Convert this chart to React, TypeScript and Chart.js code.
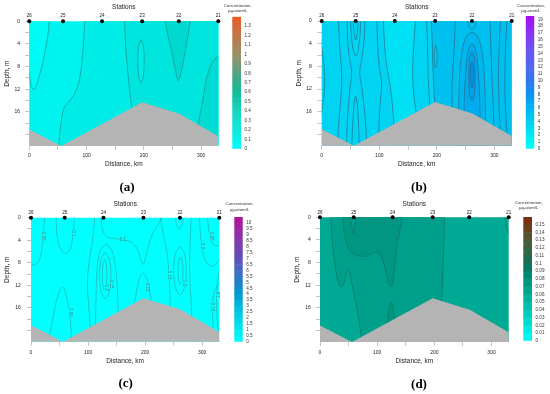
import React, { useEffect, useRef } from 'react';
import { Chart, registerables } from 'chart.js';

Chart.register(...registerables);

type P = [number, number];
const FONT = '"Liberation Sans", Arial, sans-serif';

// ---------- shared axis data ----------
const stationKm = [0, 59, 127, 197, 261, 330];
const stationNames = ['26', '25', '24', '23', '22', '21'];
const distanceTicks = [0, 50, 100, 150, 200, 250, 300];
const distanceLabels = [0, 100, 200, 300];
const depthTicks = [0, 2, 4, 6, 8, 10, 12, 14, 16, 18, 20];
const depthLabels = [0, 4, 8, 12, 16];
const bottomProfile: P[] = [[0, 19.1], [56, 22], [197, 14.3], [262, 16.3], [330, 20.3]];
const plotRect: P[] = [[-30, -30], [400, -30], [400, 40], [-30, 40]];

// ---------- panel (a) ----------
const aC1: P[] = [[35, -0.5], [33, 2], [29, 4.5], [23, 7.5], [15, 10.5], [9, 12], [4, 11.6], [1, 10], [0, 9.2]];
const aC2: P[] = [[97, -0.5], [95, 3], [92, 7], [87, 10.5], [79, 12.8], [69, 14.2], [61, 15.2], [56, 17.5], [53, 20], [51, 22.5]];
const aC3: P[] = [[166, -0.5], [168, 4], [172, 9], [176, 13], [180, 16]];
const aEll: P[] = [[195, 3.2], [199, 4.3], [200.5, 7], [199, 9.7], [195, 10.8], [191, 9.7], [189.5, 7], [191, 4.3], [195, 3.2]];
const aC4: P[] = [[236, -0.5], [242, 2.5], [250, 6], [256, 9], [260.5, 10.5], [265, 9], [271, 6], [277, 2.5], [282, -0.5]];
const aC5: P[] = [[331, 6.2], [325, 6.5], [318, 7.5], [311, 9.5], [306, 12], [302, 14.5], [297, 17], [293, 19.5]];
const aBarTicks = [0, 0.1, 0.2, 0.3, 0.4, 0.5, 0.6, 0.7, 0.8, 0.9, 1, 1.1, 1.2, 1.3];
const aStops: [number, string][] = [[0, '#00ffff'], [0.2, '#10e8dc'], [0.4, '#18d4c0'], [0.6, '#10bc98'], [0.75, '#40a888'], [0.9, '#7a9a74'], [1.0, '#9c9064'], [1.15, '#b87c52'], [1.3, '#d86838'], [1.4, '#ec5a24']];

// ---------- panel (b) ----------
const bC1: P[] = [[-0.5, 4.3], [2.5, 6.5], [4.5, 9], [5, 10.5], [4, 13], [1.5, 15], [-0.5, 16.2]];
const bC2: P[] = [[29, -0.5], [31, 4], [34, 8], [35, 10.5], [33, 14], [30, 17.5], [28, 20.8]];
const bC3: P[] = [[44, -0.5], [45, 3], [48, 6.5], [52, 9], [49, 12], [46, 15.5], [44, 19], [43.5, 21.5]];
const bC4: P[] = [[75, -0.5], [74, 3], [70, 6.5], [66, 9], [70, 12], [74, 15.5], [77, 19], [78, 21.2]];
const bC5: P[] = [[50, -0.5], [51.5, 2.5], [54.5, 5], [59, 6.2], [63.5, 5], [66.5, 2.5], [68, -0.5]];
const bC6: P[] = [[54.5, -0.5], [56, 2], [59, 3.3], [62, 2], [63.5, -0.5]];
const bC7: P[] = [[52, 22.5], [54, 18], [56.5, 14.5], [59, 13.3], [61.5, 14.5], [64, 18], [65, 22.5]];
const bC8: P[] = [[96, -0.5], [97, 4], [100, 8], [104, 11], [102, 14], [100, 17], [99, 20.6]];
const bC9: P[] = [[107, -0.5], [109, 4], [113, 8], [119, 11.5], [123, 15], [126, 19]];
const bC10: P[] = [[163, -0.5], [160, 4], [158, 8], [159, 12], [163, 15.5], [165, 17.5]];
const bC11: P[] = [[190, -0.5], [192, 4], [193, 8], [195, 12], [197, 15]];
const bC12: P[] = [[182, -0.5], [184, 5], [185, 10], [188, 15.5]];
const bEll23: P[] = [[198, 4.3], [200, 5], [200.5, 6.3], [200, 7.6], [198, 8.3], [196, 7.6], [195.5, 6.3], [196, 5], [198, 4.3]];
const bC13: P[] = [[232, -0.5], [230, 5], [227, 10], [226, 13], [227, 15.8]];
const bE4: P[] = [[238, 15.8], [239, 11], [242, 6.5], [248, 3.5], [255, 2.3], [261, 2], [267, 2.3], [274, 3.5], [280, 6.5], [283, 11], [285, 17.8]];
const bE3: P[] = [[247, 16.2], [248, 12.5], [251, 8], [255, 5], [261, 4], [267, 5], [271, 8], [274, 12.5], [275, 17.2]];
const bE2: P[] = [[261, 5.5], [265, 6.5], [266.5, 9.8], [265, 13.1], [261, 14.1], [257, 13.1], [255.5, 9.8], [257, 6.5], [261, 5.5]];
const bE1: P[] = [[261, 7.2], [263, 7.9], [263.5, 9.5], [263, 11.1], [261, 11.8], [259, 11.1], [258.5, 9.5], [259, 7.9], [261, 7.2]];
const bU22: P[] = [[253, -0.5], [256, 1], [261, 1.5], [266, 1], [269, -0.5]];
const bC14: P[] = [[292, -0.5], [294, 5], [296, 11], [298, 15], [299, 18.8]];
const bC15: P[] = [[311, -0.5], [308, 5], [307, 10], [308, 15], [310, 19.5]];
const bC16: P[] = [[322, -0.5], [319, 6], [318, 12], [320, 17], [322, 20]];
const bBarTicks = [0, 1, 2, 3, 4, 5, 6, 7, 8, 9, 10, 11, 12, 13, 14, 15, 16, 17, 18, 19];
const bStops: [number, string][] = [[0, '#00ffff'], [2, '#00e8f2'], [4, '#00ccf0'], [6, '#00b4f0'], [8, '#1090f0'], [10, '#3078f0'], [12, '#5068f0'], [14, '#6858f0'], [16, '#8040f0'], [18, '#9820f0'], [19.5, '#a808f0']];

// ---------- panel (c) ----------
const cC1: P[] = [[24, -0.5], [22, 2.5], [19, 5.5], [15, 7.4], [9, 8.2], [3, 8.4], [-0.5, 8.4]];
const cC2: P[] = [[44, -0.5], [45, 2.5], [49, 4.8], [55, 6], [62, 6.3], [69, 5.5], [73, 3.5], [75, 1.5], [76, -0.5]];
const cC3: P[] = [[122, -0.5], [125, 2], [132, 3.3], [145, 3.7], [160, 3.9], [175, 4.3], [186, 5.5], [192, 7.3], [196.5, 8.3], [201, 7], [207, 4.5], [215, 2.4], [224, 1], [232, -0.5]];
const cC4: P[] = [[112, -0.5], [109, 3], [104, 6.5], [100, 9.5], [99, 12.5], [101, 15.5], [104, 19.5]];
const cC5: P[] = [[113, 19.5], [114, 14], [116, 9], [121, 6], [130, 4.8], [140, 5.5], [147, 8], [151, 12], [153, 16.8]];
const cE24a: P[] = [[130, 6.1], [137, 7.3], [140, 10.2], [137, 13.1], [130, 14.3], [123, 13.1], [120, 10.2], [123, 7.3], [130, 6.1]];
const cE24b: P[] = [[129, 7.4], [132, 8.2], [133, 10.1], [132, 12], [129, 12.8], [126, 12], [125, 10.1], [126, 8.2], [129, 7.4]];
const cArch23: P[] = [[181, 15.6], [186, 12.5], [191, 10.5], [196.5, 9.8], [202, 10.5], [207, 12.5], [211, 15]];
const cU22: P[] = [[253, -0.5], [255, 1.2], [260, 2], [265, 1.2], [268, -0.5]];
const cL22: P[] = [[226, -0.5], [232, 3], [238, 6], [241, 9], [243, 12], [244, 16]];
const cR22: P[] = [[281, -0.5], [279, 4], [278, 8], [279, 12], [282, 17.8]];
const cE22a: P[] = [[261, 5.1], [268.8, 6.4], [272, 9.4], [268.8, 12.4], [261, 13.7], [253.2, 12.4], [250, 9.4], [253.2, 6.4], [261, 5.1]];
const cE22b: P[] = [[262, 7], [265.2, 7.7], [266.5, 9.4], [265.2, 11.1], [262, 11.8], [258.8, 11.1], [257.5, 9.4], [258.8, 7.7], [262, 7]];
const c21a: P[] = [[295, -0.5], [297, 3], [301, 6], [308, 8], [318, 8.6], [326, 8], [331, 7.5]];
const c21b: P[] = [[309, -0.5], [312, 2.5], [318, 4.5], [324, 5], [331, 4.8]];
const c21c: P[] = [[331, 9], [327, 11], [325, 14], [326, 17], [328, 20.5]];
const c21d: P[] = [[331, 11.5], [322, 13], [318, 15.5], [319, 18.5], [320, 20.5]];
const c25b: P[] = [[33, 20.8], [38, 18], [44, 15], [51, 12.7], [56, 12.3], [61, 13.5], [65, 15.5], [68, 17], [71, 21.3]];
const cLabelKm = [21.3, 73.5, 161, 132, 141, 203, 242, 269, 300, 315, 327, 318, 68];
const cLabelDepth = [3.3, 2.8, 3.9, 12.4, 11.8, 12.3, 10.2, 11.6, 5, 3.3, 13.7, 15.8, 16.8];
const cLabelText = ['0.05', '0.1', '0.1', '0.2', '0.15', '0.15', '0.15', '0.2', '0.2', '0.25', '0.1', '0.15', '0.05'];
const cLabelAngle = [90, 90, 0, 90, 90, 90, 90, 90, 90, 90, 90, 90, 90];
const cBarTicks = [0, 0.5, 1, 1.5, 2, 2.5, 3, 3.5, 4, 4.5, 5, 5.5, 6, 6.5, 7, 7.5, 8, 8.5, 9, 9.5, 10];
const cStops: [number, string][] = [[0, '#00ffff'], [1, '#00e8f0'], [2, '#00d0e8'], [3, '#00b8e0'], [4, '#0098d0'], [5, '#2080c8'], [6, '#4868c0'], [7, '#6050b8'], [8, '#7840b0'], [9, '#9030a8'], [10.5, '#b0109a']];

// ---------- panel (d) ----------
const dP1: P[] = [[19, -0.5], [20.5, 3], [23, 6], [27, 9], [32, 11.5], [37.5, 12.3], [43, 11.3], [48, 9.3], [51.5, 9.6], [55, 11.5], [60.5, 14], [66, 17], [70, 19.5], [73, 21.6]];
const dP2: P[] = [[40, -0.5], [42, 2.5], [46, 4.5], [52, 5.8], [61, 6.5], [72, 6.9], [83, 6.8], [92, 6.3], [99, 6.2], [105, 6.6], [110, 7.6], [115, 9.5], [119, 11.2], [124.5, 12.2], [128.5, 10.5], [132, 7.5], [135.5, 4.5], [139, 2.5], [143, 0.5], [145, -0.5]];
const dV25: P[] = [[52, -0.5], [55, 1.2], [58.5, 2.9], [61, 1.4], [63, -0.5]];
const dArch24: P[] = [[118, 18.9], [120, 17], [122.5, 15.3], [125, 15], [128, 16.3], [131, 17.8]];
const dP3: P[] = [[218, -0.5], [217, 4], [215.5, 8], [214, 12], [212, 15.5]];
const dC21: P[] = [[322, -0.5], [325, 1], [328, 2.3], [331, 3]];
const dBarTicks = [0, 0.01, 0.02, 0.03, 0.04, 0.05, 0.06, 0.07, 0.08, 0.09, 0.1, 0.11, 0.12, 0.13, 0.14, 0.15];
const dStops: [number, string][] = [[0, '#00ffff'], [0.02, '#00e0d4'], [0.04, '#00c4b4'], [0.06, '#00ac96'], [0.08, '#00907a'], [0.09, '#008066'], [0.1, '#107058'], [0.11, '#2a6a4c'], [0.12, '#3e6444'], [0.13, '#505a38'], [0.14, '#604a28'], [0.15, '#703818'], [0.16, '#802808']];

// ---------- helpers ----------
const ext = (pts: P[]): P[] => {
  const n = pts.length;
  const [x0, y0] = pts[0];
  const [x1, y1] = pts[1];
  const [xa, ya] = pts[n - 2];
  const [xb, yb] = pts[n - 1];
  return [[x0 + (x0 - x1) * 1.5, y0 + (y0 - y1) * 1.5], ...pts, [xb + (xb - xa) * 1.5, yb + (yb - ya) * 1.5]];
};
const isClosed = (p: P[]) => p[0][0] === p[p.length - 1][0] && p[0][1] === p[p.length - 1][1];
const xy = (pts: P[]) => pts.map(([x, y]) => ({ x, y }));
const hex = (h: string) => [1, 3, 5].map((i) => parseInt(h.slice(i, i + 2), 16));
function rampColor(stops: [number, string][], v: number) {
  for (let i = 0; i < stops.length - 1; i++) {
    const [v0, c0] = stops[i];
    const [v1, c1] = stops[i + 1];
    if (v <= v1 || i === stops.length - 2) {
      const t = Math.max(0, Math.min(1, (v - v0) / (v1 - v0)));
      const a = hex(c0), b = hex(c1);
      const m = a.map((q, k) => Math.round(q + (b[k] - q) * t));
      return `rgb(${m[0]},${m[1]},${m[2]})`;
    }
  }
  return stops[stops.length - 1][1];
}

interface Fill { pts: P[]; color: string; tension?: number }
interface Spec {
  ox: number; oy: number; L: number; R: number; T: number; B: number;
  yLabelRight: number; yTitleX: number;
  fills: Fill[]; lines: P[][]; lineColor: string;
  labels?: { km: number[]; depth: number[]; text: string[]; angle: number[]; bg: string };
  bar: { x0: number; x1: number; y0: number; y1: number; top: number; step: number; ticks: number[]; stops: [number, string][]; t1: number; t2: number };
  tag: string; tagX: number; tagY: number;
}

const specs: Spec[] = [
  {
    ox: 0, oy: 0, L: 29.3, R: 218.3, T: 21.3, B: 146, yLabelRight: 20, yTitleX: 7.3,
    fills: [
      { pts: plotRect, color: '#00f3ee', tension: 0 },
      { pts: [...ext(aC1), [-30, 8], [-30, -30]], color: '#00fbf7' },
      { pts: [...ext(aC2), [40, 40], [400, 40], [400, -30]], color: '#00ede7' },
      { pts: [...ext(aC3), [185, 40], [400, 40], [400, -30]], color: '#00e5dd' },
      { pts: aEll, color: '#00ede7' },
      { pts: ext(aC4), color: '#00d9d0' },
      { pts: [...ext(aC5), [280, 40], [400, 40], [400, 5]], color: '#00dcd3' },
    ],
    lines: [aC1, aC2, aC3, aEll, aC4, aC5], lineColor: '#1f8580',
    bar: { x0: 232.3, x1: 241, y0: 16.7, y1: 150.7, top: 1.4, step: 0.05, ticks: aBarTicks, stops: aStops, t1: 6, t2: 11.3 },
    tag: '(a)', tagX: 127, tagY: 187,
  },
  {
    ox: 275, oy: 0, L: 46.7, R: 236.7, T: 21, B: 145.7, yLabelRight: 36.7, yTitleX: 24.3,
    fills: [
      { pts: plotRect, color: '#00d4f2', tension: 0 },
      { pts: [...ext(bC9), [130, 40], [170, 40], ...ext(bC10).reverse()], color: '#00e0f5' },
      { pts: [...ext(bC11), [200, 40], [400, 40], [400, -30]], color: '#00c0f0' },
      { pts: bEll23, color: '#00ccf1' },
      { pts: [...ext(bE4), [300, 40], [220, 40]], color: '#00b6ef' },
      { pts: [...ext(bE3), [290, 40], [235, 40]], color: '#00acee' },
      { pts: bE2, color: '#00a0ed' },
      { pts: bE1, color: '#0092eb' },
    ],
    lines: [bC1, bC2, bC3, bC4, bC5, bC6, bC7, bC8, bC9, bC10, bC11, bC12, bEll23, bC13, bE4, bE3, bE2, bE1, bU22, bC14, bC15, bC16],
    lineColor: '#2c5f78',
    bar: { x0: 250.7, x1: 259.3, y0: 16, y1: 150.7, top: 19.5, step: 0.5, ticks: bBarTicks, stops: bStops, t1: 5.8, t2: 11 },
    tag: '(b)', tagX: 144, tagY: 187,
  },
  {
    ox: 0, oy: 197, L: 31, R: 219.3, T: 20.7, B: 144.7, yLabelRight: 20.7, yTitleX: 7.3,
    fills: [{ pts: plotRect, color: '#00ffff', tension: 0 }],
    lines: [cC1, cC2, cC3, cC4, cC5, cE24a, cE24b, cArch23, cU22, cL22, cR22, cE22a, cE22b, c21a, c21b, c21c, c21d, c25b],
    lineColor: '#2aa3a0',
    labels: { km: cLabelKm, depth: cLabelDepth, text: cLabelText, angle: cLabelAngle, bg: '#00ffff' },
    bar: { x0: 234.3, x1: 242.7, y0: 20, y1: 146.7, top: 10.5, step: 0.5, ticks: cBarTicks, stops: cStops, t1: 6.7, t2: 12.5 },
    tag: '(c)', tagX: 125.7, tagY: 186,
  },
  {
    ox: 275, oy: 197, L: 45, R: 233.7, T: 20.3, B: 145, yLabelRight: 35.7, yTitleX: 22.3,
    fills: [
      { pts: plotRect, color: '#00a994', tension: 0 },
      { pts: [...ext(dP1), [80, 40], [212, 40], ...ext(dP3).reverse()], color: '#009f8b' },
      { pts: ext(dP2), color: '#009682' },
      { pts: ext(dV25), color: '#009f8b' },
      { pts: ext(dArch24), color: '#009682' },
    ],
    lines: [dP1, dP2, dV25, dArch24, dP3, dC21], lineColor: '#0f6e58',
    bar: { x0: 248.3, x1: 257, y0: 20, y1: 145.7, top: 0.16, step: 0.01, ticks: dBarTicks, stops: dStops, t1: 6, t2: 11 },
    tag: '(d)', tagX: 144, tagY: 186.7,
  },
];

const W = 275, H = 197;

function mainConfig(s: Spec): any {
  const ds: any[] = [];
  s.fills.forEach((f) => ds.push({ data: xy(f.pts), fill: 'shape', backgroundColor: f.color, borderWidth: 0, pointRadius: 0, tension: f.tension ?? 0.35 }));
  s.lines.forEach((l) => ds.push({ data: xy(isClosed(l) ? l : ext(l)), fill: false, borderColor: s.lineColor, borderWidth: 0.6, pointRadius: 0, tension: 0.35 }));
  ds.push({ data: xy([...bottomProfile, [330, 40], [0, 40]]), fill: 'shape', backgroundColor: '#b4b4b4', borderWidth: 0, pointRadius: 0, tension: 0 });
  ds.push({ data: stationKm.map((x) => ({ x, y: 0 })), showLine: false, pointRadius: 2, pointBackgroundColor: '#000', pointBorderWidth: 0, clip: false });
  const n = ds.length;
  ds.forEach((d, i) => { d.order = n - i; });

  const tickGrid = { drawOnChartArea: false, drawTicks: true, tickLength: 4, color: '#9a9a9a', lineWidth: 0.6 };
  const plugins: any[] = [
    {
      id: 'yTitle',
      afterDraw(chart: any) {
        const { ctx, chartArea } = chart;
        ctx.save();
        ctx.translate(s.yTitleX, (chartArea.top + chartArea.bottom) / 2 - 10);
        ctx.rotate(-Math.PI / 2);
        ctx.font = `6.5px ${FONT}`;
        ctx.fillStyle = '#222';
        ctx.textAlign = 'center';
        ctx.textBaseline = 'middle';
        ctx.fillText('Depth, m', 0, 0);
        ctx.restore();
      },
    },
  ];
  if (s.labels) {
    const lb = s.labels;
    plugins.push({
      id: 'contourLabels',
      afterDatasetsDraw(chart: any) {
        const { ctx } = chart;
        const xs = chart.scales.x, ys = chart.scales.y;
        ctx.save();
        ctx.font = `4.5px ${FONT}`;
        ctx.textAlign = 'center';
        ctx.textBaseline = 'middle';
        lb.text.forEach((t, i) => {
          const px = xs.getPixelForValue(lb.km[i]);
          const py = ys.getPixelForValue(lb.depth[i]);
          ctx.save();
          ctx.translate(px, py);
          ctx.rotate((lb.angle[i] * Math.PI) / 180);
          const w = ctx.measureText(t).width;
          ctx.fillStyle = lb.bg;
          ctx.fillRect(-w / 2 - 0.5, -2.2, w + 1, 4.4);
          ctx.fillStyle = '#6a6a6a';
          ctx.fillText(t, 0, 0);
          ctx.restore();
        });
        ctx.restore();
      },
    });
  }

  return {
    type: 'line',
    data: { datasets: ds },
    options: {
      responsive: false, animation: false, events: [],
      layout: { padding: { left: 0, right: W - s.R, top: 0, bottom: 0 } },
      elements: { line: { capBezierPoints: false } },
      plugins: { legend: { display: false }, tooltip: { enabled: false } },
      scales: {
        x: {
          type: 'linear', position: 'bottom', min: 0, max: 330,
          afterBuildTicks: (sc: any) => { sc.ticks = distanceTicks.map((v) => ({ value: v })); },
          afterFit: (sc: any) => { sc.height = H - s.B; },
          ticks: { autoSkip: false, maxRotation: 0, padding: 149 - s.B, font: { family: FONT, size: 5 }, color: '#222', callback: (v: number) => (distanceLabels.includes(v) ? String(v) : '') },
          grid: tickGrid,
          border: { display: false },
          title: { display: true, text: 'Distance, km', font: { family: FONT, size: 6.5 }, color: '#222', padding: { top: 0, bottom: 28.8 } },
        },
        xTop: {
          type: 'linear', position: 'top', min: 0, max: 330,
          afterBuildTicks: (sc: any) => { sc.ticks = stationKm.map((v) => ({ value: v })); },
          afterFit: (sc: any) => { sc.height = s.T; },
          ticks: { autoSkip: false, maxRotation: 0, padding: s.T - 2.7 - 15.8, font: { family: FONT, size: 4.5 }, color: '#111', callback: (_v: number, i: number) => stationNames[i] },
          grid: { display: false, drawTicks: false },
          border: { display: false },
          title: { display: true, text: 'Stations', font: { family: FONT, size: 6.5 }, color: '#222', padding: { top: 3.4, bottom: 0 } },
        },
        y: {
          type: 'linear', position: 'left', reverse: true, min: 0, max: 22,
          afterBuildTicks: (sc: any) => { sc.ticks = depthTicks.map((v) => ({ value: v })); },
          afterFit: (sc: any) => { sc.width = s.L; },
          ticks: { autoSkip: false, padding: s.L - 4 - s.yLabelRight, font: { family: FONT, size: 5 }, color: '#222', callback: (v: number) => (depthLabels.includes(v) ? String(v) : '') },
          grid: tickGrid,
          border: { display: false },
        },
      },
    },
    plugins,
  };
}

function barGeometry(s: Spec) {
  const cl = Math.floor(s.bar.x0) - 15;
  const cw = 60;
  const ch = Math.ceil(s.bar.y1) + 4;
  return { cl, cw, ch, padLeft: s.bar.x0 - cl, yWidth: cw - (s.bar.x1 - cl) };
}

function barConfig(s: Spec): any {
  const b = s.bar;
  const g = barGeometry(s);
  const n = Math.round(b.top / b.step);
  const bands = Array.from({ length: n }, (_, i) => rampColor(b.stops, (i + 0.5) * b.step));
  return {
    type: 'bar',
    data: {
      labels: [''],
      datasets: bands.map((c) => ({ data: [b.step], backgroundColor: c, borderWidth: 0, barPercentage: 1, categoryPercentage: 1 })),
    },
    options: {
      responsive: false, animation: false, events: [],
      layout: { padding: { left: g.padLeft, top: b.y0, bottom: g.ch - b.y1, right: 0 } },
      plugins: { legend: { display: false }, tooltip: { enabled: false } },
      scales: {
        x: { display: false, stacked: true },
        y: {
          stacked: true, position: 'right', min: 0, max: b.top,
          afterBuildTicks: (sc: any) => { sc.ticks = b.ticks.map((v) => ({ value: v })); },
          afterFit: (sc: any) => { sc.width = g.yWidth; },
          ticks: { autoSkip: false, padding: 3.5, font: { family: FONT, size: 4.6 }, color: '#333', callback: (v: number) => String(v) },
          grid: { display: false, drawTicks: false },
          border: { display: false },
        },
      },
    },
    plugins: [
      {
        id: 'barTitle',
        afterDraw(chart: any) {
          const { ctx, chartArea } = chart;
          const cx = (chartArea.left + chartArea.right) / 2 + 1;
          ctx.save();
          ctx.font = `4.3px ${FONT}`;
          ctx.fillStyle = '#333';
          ctx.textAlign = 'center';
          ctx.textBaseline = 'middle';
          ctx.fillText('Concentration,', cx, b.t1);
          ctx.fillText('µg-atom/L', cx, b.t2);
          ctx.restore();
        },
      },
    ],
  };
}

function Panel({ s }: { s: Spec }) {
  const mainRef = useRef<HTMLCanvasElement>(null);
  const barRef = useRef<HTMLCanvasElement>(null);
  useEffect(() => {
    const c1 = new Chart(mainRef.current as HTMLCanvasElement, mainConfig(s));
    const c2 = new Chart(barRef.current as HTMLCanvasElement, barConfig(s));
    return () => { c1.destroy(); c2.destroy(); };
  }, []);
  const g = barGeometry(s);
  return (
    <div style={{ position: 'absolute', left: s.ox, top: s.oy, width: W, height: H }}>
      <canvas ref={mainRef} width={W} height={H} style={{ position: 'absolute', left: 0, top: 0 }} />
      <canvas ref={barRef} width={g.cw} height={g.ch} style={{ position: 'absolute', left: g.cl, top: 0 }} />
      <div style={{ position: 'absolute', left: s.tagX - 20, top: s.tagY - 8, width: 40, height: 16, lineHeight: '16px', textAlign: 'center', fontFamily: '"Liberation Serif", "Times New Roman", serif', fontWeight: 'bold', fontSize: 13, color: '#000' }}>
        {s.tag}
      </div>
    </div>
  );
}

export default function App() {
  return (
    <div style={{ position: 'absolute', left: 0, top: 0, width: 550, height: 394, background: '#fff', overflow: 'hidden' }}>
      {specs.map((s) => <Panel key={s.tag} s={s} />)}
    </div>
  );
}
